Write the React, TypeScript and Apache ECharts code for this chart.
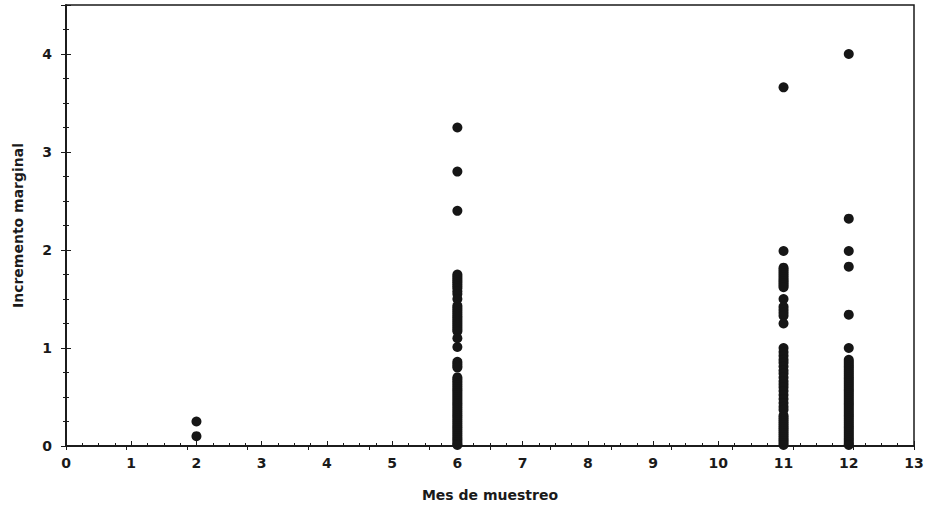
import React, { useEffect, useRef } from "react";
import * as echarts from "echarts";

const xTicks = [0, 1, 2, 3, 4, 5, 6, 7, 8, 9, 10, 11, 12, 13];
const yTicks = [0, 1, 2, 3, 4];

const month2 = [0.25, 0.1];
const month6 = [
  3.25, 2.8, 2.4, 1.75, 1.73, 1.71, 1.69, 1.67, 1.65, 1.63, 1.61, 1.58, 1.55,
  1.5, 1.43, 1.41, 1.39, 1.37, 1.35, 1.33, 1.31, 1.29, 1.27, 1.25, 1.23, 1.21,
  1.19, 1.17, 1.1, 1.01, 0.86, 0.84, 0.82, 0.8, 0.7, 0.68, 0.66, 0.64, 0.62,
  0.6, 0.58, 0.56, 0.54, 0.52, 0.5, 0.48, 0.46, 0.44, 0.42, 0.4, 0.38, 0.36,
  0.34, 0.32, 0.3, 0.28, 0.26, 0.24, 0.22, 0.2, 0.18, 0.16, 0.14, 0.12, 0.1,
  0.08, 0.06, 0.04, 0.02, 0.01,
];
const month11 = [
  3.66, 1.99, 1.82, 1.8, 1.78, 1.76, 1.74, 1.72, 1.7, 1.68, 1.66, 1.64, 1.62,
  1.5, 1.42, 1.39, 1.36, 1.33, 1.25, 1.0, 0.96, 0.92, 0.88, 0.85, 0.81, 0.77,
  0.74, 0.7, 0.66, 0.63, 0.6, 0.56, 0.52, 0.48, 0.44, 0.4, 0.37, 0.31, 0.29,
  0.27, 0.25, 0.23, 0.21, 0.19, 0.17, 0.15, 0.13, 0.11, 0.09, 0.07, 0.05, 0.03,
  0.01,
];
const month12 = [
  4.0, 2.32, 1.99, 1.83, 1.34, 1.0, 0.88, 0.86, 0.84, 0.82, 0.8, 0.78, 0.76,
  0.74, 0.72, 0.7, 0.68, 0.66, 0.64, 0.62, 0.6, 0.58, 0.56, 0.54, 0.52, 0.5,
  0.48, 0.46, 0.44, 0.42, 0.4, 0.38, 0.36, 0.34, 0.32, 0.3, 0.28, 0.26, 0.24,
  0.22, 0.2, 0.18, 0.16, 0.14, 0.12, 0.1, 0.08, 0.06, 0.04, 0.02, 0.01,
];

const groups: [number, number[]][] = [
  [2, month2],
  [6, month6],
  [11, month11],
  [12, month12],
];

export default function App() {
  const ref = useRef<HTMLDivElement>(null);
  useEffect(() => {
    if (!ref.current) return;
    const chart = echarts.init(ref.current, undefined, { renderer: "svg" });
    const data: number[][] = [];
    groups.forEach(([m, vals]) => vals.forEach((v) => data.push([m, v])));
    const axisColor = "#1a1a1a";
    const font = "DejaVu Sans";
    chart.setOption({
      animation: false,
      backgroundColor: "#fff",
      grid: {
        left: 66,
        right: 14,
        top: 5,
        bottom: 62,
        show: true,
        borderColor: axisColor,
        borderWidth: 1.5,
        backgroundColor: "transparent",
      },
      xAxis: [
        {
          type: "value",
          min: 0,
          max: 13,
          interval: 1,
          name: "Mes de muestreo",
          nameLocation: "middle",
          nameGap: 42,
          nameTextStyle: { fontFamily: font, fontSize: 14, fontWeight: "bold", color: "#1a1a1a" },
          axisLine: { show: true, lineStyle: { color: axisColor, width: 1.5 } },
          axisTick: { show: true, inside: true, length: 5, lineStyle: { color: axisColor } },
          minorTick: { show: true, splitNumber: 4, length: 3, lineStyle: { color: axisColor } },
          splitLine: { show: false },
          axisLabel: {
            margin: 10,
            fontFamily: font,
            fontSize: 14,
            fontWeight: "bold",
            color: "#1a1a1a",
            formatter: (v: number) => (xTicks.includes(v) ? String(v) : ""),
          },
        },
        {
          type: "value",
          position: "top",
          min: 0,
          max: 14,
          interval: 1,
          axisLine: { show: true, lineStyle: { color: axisColor, width: 1.5 } },
          axisTick: { show: true, inside: true, length: 4, lineStyle: { color: axisColor } },
          splitLine: { show: false },
          axisLabel: { show: false },
        },
      ],
      yAxis: [
        {
          type: "value",
          min: 0,
          max: 4.5,
          interval: 1,
          name: "Incremento marginal",
          nameLocation: "middle",
          nameGap: 41,
          nameTextStyle: { fontFamily: font, fontSize: 14, fontWeight: "bold", color: "#1a1a1a" },
          axisLine: { show: true, lineStyle: { color: axisColor, width: 1.5 } },
          axisTick: { show: true, inside: true, length: 5, lineStyle: { color: axisColor } },
          minorTick: { show: true, splitNumber: 4, length: 3, lineStyle: { color: axisColor } },
          splitLine: { show: false },
          axisLabel: {
            margin: 14,
            fontFamily: font,
            fontSize: 14,
            fontWeight: "bold",
            color: "#1a1a1a",
            showMaxLabel: false,
            formatter: (v: number) => (yTicks.includes(v) ? String(v) : ""),
          },
        },
        {
          type: "value",
          position: "right",
          min: 0,
          max: 4.5,
          interval: 1,
          axisLine: { show: true, lineStyle: { color: axisColor, width: 1.5 } },
          axisTick: { show: true, inside: true, length: 5, lineStyle: { color: axisColor } },
          minorTick: { show: true, splitNumber: 4, length: 3, lineStyle: { color: axisColor } },
          splitLine: { show: false },
          axisLabel: { show: false },
        },
      ],
      series: [
        {
          type: "scatter",
          xAxisIndex: 0,
          yAxisIndex: 0,
          data,
          symbol: "circle",
          symbolSize: 10,
          itemStyle: { color: "#161616", opacity: 1 },
        },
      ],
    });
    return () => chart.dispose();
  }, []);
  return (
    <div
      ref={ref}
      style={{ position: "fixed", left: 0, top: 0, width: 928, height: 508, background: "#fff" }}
    />
  );
}
